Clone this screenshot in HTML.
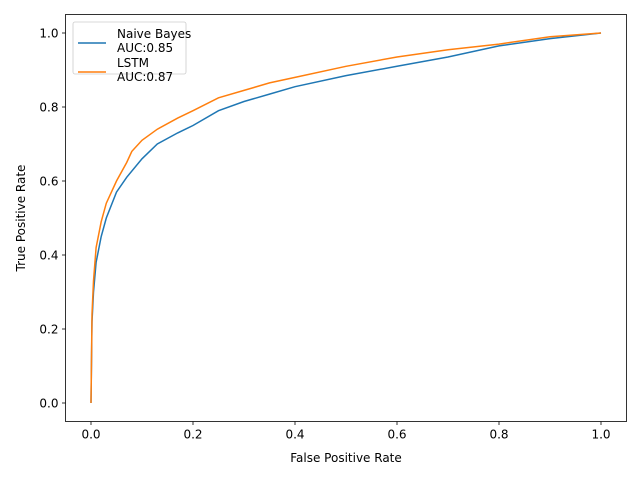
<!DOCTYPE html>
<html><head><meta charset="utf-8"><style>body{margin:0;background:#fff}svg{display:block;font-family:"DejaVu Sans","Liberation Sans",sans-serif}</style></head>
<body>
<svg id="chart" width="640" height="480" viewBox="0 0 640 480" xmlns="http://www.w3.org/2000/svg">
<rect x="0" y="0" width="640" height="480" fill="#fff"/>
<g id="plot"></g>
</svg>
<script>
const nbFpr=[0,0.002,0.005,0.01,0.02,0.03,0.05,0.07,0.1,0.13,0.17,0.2,0.25,0.3,0.35,0.4,0.5,0.6,0.7,0.8,0.9,1];
const nbTpr=[0,0.22,0.3,0.38,0.45,0.5,0.57,0.61,0.66,0.7,0.73,0.75,0.79,0.815,0.835,0.855,0.885,0.91,0.935,0.965,0.985,1];
const lsFpr=[0,0.002,0.005,0.01,0.02,0.03,0.05,0.07,0.08,0.1,0.13,0.17,0.2,0.25,0.3,0.35,0.4,0.5,0.6,0.7,0.8,0.9,1];
const lsTpr=[0,0.24,0.33,0.42,0.49,0.54,0.6,0.65,0.68,0.71,0.74,0.77,0.79,0.825,0.845,0.865,0.88,0.91,0.935,0.955,0.97,0.99,1];
const xTicks=[0,0.2,0.4,0.6,0.8,1.0];
const yTicks=[0,0.2,0.4,0.6,0.8,1.0];
const NS="http://www.w3.org/2000/svg";
const L=65.5,R=626.5,T=14.5,B=421.5;
const xs=v=>91+(v)*510, ys=v=>403-v*370;
const g=document.getElementById('plot');
function mk(t,a){const e=document.createElementNS(NS,t);for(const k in a)e.setAttribute(k,a[k]);g.appendChild(e);return e;}
function line(fx,ty,color,name){
  const d=fx.map((x,i)=>(i?'L':'M')+xs(x).toFixed(1)+','+ys(ty[i]).toFixed(1)).join('');
  const p=mk('path',{d:d,fill:'none',stroke:color,'stroke-width':1.5});
  
  
}
line(nbFpr,nbTpr,'#1f77b4','naive-bayes-line');
line(lsFpr,lsTpr,'#ff7f0e','lstm-line');
const fr=mk('rect',{x:L,y:T,width:R-L,height:B-T,fill:'none',stroke:'#000','stroke-width':0.8});


xTicks.forEach(v=>{
  const t=mk('line',{x1:xs(v),x2:xs(v),y1:B,y2:B+3.5,stroke:'#000','stroke-width':0.8});
  
  
  const tx=mk('text',{x:xs(v),y:B+17,'font-size':12,'text-anchor':'middle'});
  tx.textContent=v.toFixed(1);
  
  
});
yTicks.forEach(v=>{
  const t=mk('line',{x1:L-3.5,x2:L,y1:ys(v),y2:ys(v),stroke:'#000','stroke-width':0.8});
  
  
  const tx=mk('text',{x:L-7,y:ys(v)+4.5,'font-size':12,'text-anchor':'end'});
  tx.textContent=v.toFixed(1);
  
  
});
const xl=mk('text',{x:(L+R)/2,y:462,'font-size':12,'text-anchor':'middle'});
xl.textContent='False Positive Rate';


const yl=mk('text',{x:25,y:(T+B)/2,'font-size':12,'text-anchor':'middle',transform:'rotate(-90 25 '+((T+B)/2)+')'});
yl.textContent='True Positive Rate';


const lg=mk('rect',{x:73,y:22,width:113,height:52,rx:2,fill:'#fff','fill-opacity':0.8,stroke:'#ccc','stroke-width':0.8});


[['#1f77b4','Naive Bayes','AUC:0.85',34],['#ff7f0e','LSTM','AUC:0.87',63]].forEach(([c,a,b,y],i)=>{
  const s=mk('line',{x1:78,x2:106,y1:y+9,y2:y+9,stroke:c,'stroke-width':1.5});
  
  
  const t1=mk('text',{x:117,y:y+4,'font-size':12});
  t1.textContent=a;
  
  
  const t2=mk('text',{x:117,y:y+18,'font-size':12});
  t2.textContent=b;
  
  
});
</script>
</body></html>
